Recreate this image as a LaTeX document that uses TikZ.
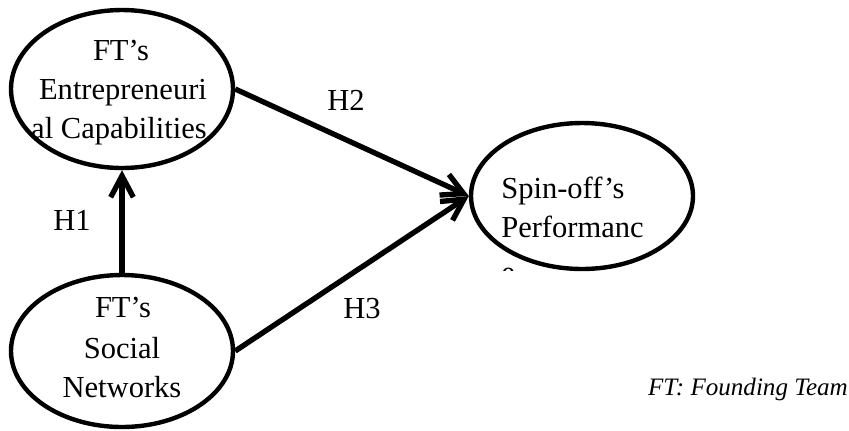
\documentclass[tikz,border=0pt]{standalone}
\usepackage{fontspec}
\setmainfont{Liberation Serif}
\usetikzlibrary{arrows.meta,shapes.geometric}

\tikzset{
  construct/.style={draw, ellipse, line width=3.3pt, inner sep=0pt},
  txt/.style={font=\fontsize{22.9}{29}\selectfont, inner sep=0pt},
  note/.style={font=\fontsize{18.8}{24}\selectfont\itshape, inner sep=0pt},
  path/.style={line width=4pt, -{Straight Barb[length=16pt,width=17pt]}},
}

\begin{document}
\begin{tikzpicture}[x=0.75pt, y=-0.75pt]
  \useasboundingbox (0,0) rectangle (849,430);

  % latent constructs
  \node[construct, minimum width=166.5pt, minimum height=118.5pt] (ec)   at (122,89)  {};
  \node[construct, minimum width=166.5pt, minimum height=114pt]   (sn)   at (122,351) {};
  \node[construct, minimum width=166.5pt, minimum height=109.5pt] (perf) at (582,196) {};

  % entrepreneurial capabilities
  \node[txt, anchor=base] (ec1) at (121,60)  {FT’s};
  \node[txt, anchor=base] (ec2) at (123,99)  {Entrepreneuri};
  \node[txt, anchor=base] (ec3) at (119,138) {al Capabilities};

  % social networks
  \node[txt, anchor=base] (sn1) at (123,317) {FT’s};
  \node[txt, anchor=base] (sn2) at (122,358) {Social};
  \node[txt, anchor=base] (sn3) at (122,397) {Networks};

  % performance (last line is cut off by its text frame)
  \node[txt, anchor=base west] (pf1) at (501,198) {Spin-off’s};
  \node[txt, anchor=base west] (pf2) at (501,237) {Performanc};
  \begin{scope}
    \clip (480,250) rectangle (600,270);
    \node[txt, anchor=base west] (pf3) at (501,282) {e};
  \end{scope}

  % hypothesised paths
  \draw[path] (sn) -- (ec);
  \draw[path] (ec.east) -- (perf.west);
  \draw[path] (sn.east) -- (perf.west);

  \node[txt, anchor=base] (h1) at (72,230)  {H1};
  \node[txt, anchor=base] (h2) at (346,110) {H2};
  \node[txt, anchor=base] (h3) at (362,318) {H3};

  \node[note, anchor=base east] (legend) at (848,395) {FT: Founding Team};
\end{tikzpicture}
\end{document}
